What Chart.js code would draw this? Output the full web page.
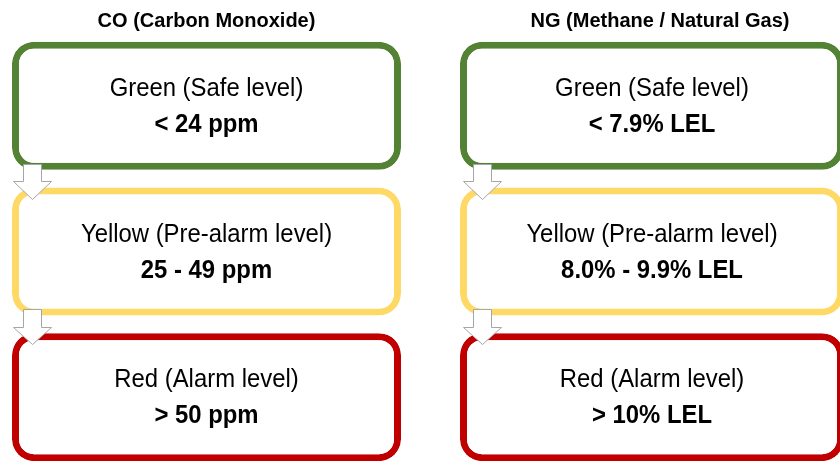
<!DOCTYPE html>
<html><head><meta charset="utf-8">
<script src="https://cdn.jsdelivr.net/npm/chart.js@4.4.1/dist/chart.umd.min.js"></script>
<style>
html,body{margin:0;padding:0;background:#fff;overflow:hidden;}
#wrap{position:relative;width:840px;height:461px;overflow:hidden;background:#fff;}
#c1{position:absolute;left:0;top:0;}
#c2{position:absolute;left:420px;top:0;}
</style></head><body>
<div id="wrap"><canvas id="c1" width="420" height="470"></canvas><canvas id="c2" width="440" height="470"></canvas></div>
<script>
// ---- data ----
const gases = ['CO (Carbon Monoxide)', 'NG (Methane / Natural Gas)'];
const levels = ['Green (Safe level)', 'Yellow (Pre-alarm level)', 'Red (Alarm level)'];
const coThresholds = ['< 24 ppm', '25 - 49 ppm', '> 50 ppm'];
const ngThresholds = ['< 7.9% LEL', '8.0% - 9.9% LEL', '> 10% LEL'];
const levelSpan = [[0, 1], [0, 1], [0, 1]];

// ---- styles ----
const levelColors = ['#548235', '#FFD966', '#C00000'];
const FONT = "'Liberation Sans', Arial, Helvetica, sans-serif";

function condensedText(ctx, text, x, y, sx) {
  ctx.save();
  ctx.translate(x, y);
  ctx.scale(sx, 1);
  ctx.fillText(text, 0, 0);
  ctx.restore();
}

const boxTextPlugin = {
  id: 'boxText',
  afterDatasetsDraw(chart, args, opts) {
    const ctx = chart.ctx;
    const els = chart.getDatasetMeta(0).data;
    ctx.save();
    // arrows between consecutive levels
    for (let i = 0; i < els.length - 1; i++) {
      const a = els[i], b = els[i + 1];
      const bottom = a.y + a.height / 2, top = b.y - b.height / 2;
      const mid = (bottom + top) / 2 + 2.5;
      const left = Math.min(a.x, a.base);
      const cx = Math.round(left + opts.arrowOffset) + 0.5;
      const y0 = Math.round(mid - 17.5) + 0.5, yb = Math.round(mid) + 0.5, yt = Math.round(mid + 17.5) + 0.5;
      ctx.beginPath();
      ctx.moveTo(cx - 9, y0);
      ctx.lineTo(cx + 9, y0);
      ctx.lineTo(cx + 9, yb);
      ctx.lineTo(cx + 19, yb);
      ctx.lineTo(cx, yt);
      ctx.lineTo(cx - 19, yb);
      ctx.lineTo(cx - 9, yb);
      ctx.closePath();
      ctx.fillStyle = '#ffffff';
      ctx.fill();
      ctx.strokeStyle = '#a6a6a6';
      ctx.lineWidth = 1;
      ctx.stroke();
    }
    // texts inside boxes
    els.forEach((el, i) => {
      const cx = (el.x + el.base) / 2;
      ctx.fillStyle = '#000';
      ctx.textAlign = 'center';
      ctx.textBaseline = 'alphabetic';
      ctx.font = '25px ' + FONT;
      condensedText(ctx, chart.data.labels[i], cx, el.y - 10, 0.955);
      ctx.font = 'bold 25px ' + FONT;
      condensedText(ctx, opts.values[i], cx, el.y + 26, 0.955);
    });
    ctx.restore();
  }
};

function makeChart(id, title, values, padding, xMax, arrowOffset) {
  return new Chart(document.getElementById(id), {
    type: 'bar',
    data: {
      labels: levels,
      datasets: [{
        data: levelSpan,
        backgroundColor: '#ffffff',
        borderColor: levelColors,
        borderWidth: 7,
        borderRadius: 22,
        borderSkipped: false,
        barPercentage: 0.879,
        categoryPercentage: 1
      }]
    },
    options: {
      indexAxis: 'y',
      responsive: false,
      animation: false,
      events: [],
      layout: { padding: padding },
      scales: {
        x: { display: false, min: 0, max: xMax },
        y: { display: false }
      },
      plugins: {
        legend: { display: false },
        tooltip: { enabled: false },
        title: {
          display: true, text: title, color: '#000',
          font: { family: FONT, size: 20, weight: 'bold', lineHeight: 1.2 },
          padding: { top: 9, bottom: 0 }
        },
        boxText: { values: values, arrowOffset: arrowOffset }
      }
    },
    plugins: [boxTextPlugin]
  });
}

makeChart('c1', gases[0], coThresholds, { left: 12, right: 19, top: 0, bottom: 0 }, 1, 20);
makeChart('c2', gases[1], ngThresholds, { left: 40, right: 0, top: 0, bottom: 0 }, 1.0417, 22);
</script>
</body></html>
